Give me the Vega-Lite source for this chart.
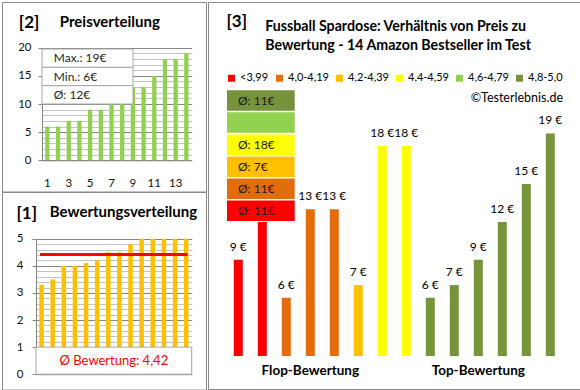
{
  "$schema": "https://vega.github.io/schema/vega-lite/v6.json",
  "padding": {"left": 1, "top": 1, "right": 0, "bottom": 0},
  "spacing": 0,
  "datasets": {
    "prices": [
      {"n": 1, "price": 6}, {"n": 2, "price": 6}, {"n": 3, "price": 7}, {"n": 4, "price": 7},
      {"n": 5, "price": 9}, {"n": 6, "price": 9}, {"n": 7, "price": 12}, {"n": 8, "price": 12},
      {"n": 9, "price": 13}, {"n": 10, "price": 13}, {"n": 11, "price": 15}, {"n": 12, "price": 18},
      {"n": 13, "price": 18}, {"n": 14, "price": 19}
    ],
    "stats": [
      {"row": "max", "txt": "Max.: 19€"},
      {"row": "min", "txt": "Min.: 6€"},
      {"row": "avg", "txt": "Ø: 12€"}
    ],
    "ratings": [
      {"n": 1, "rating": 3.3}, {"n": 2, "rating": 3.5}, {"n": 3, "rating": 4.0}, {"n": 4, "rating": 4.0},
      {"n": 5, "rating": 4.1}, {"n": 6, "rating": 4.2}, {"n": 7, "rating": 4.5}, {"n": 8, "rating": 4.5},
      {"n": 9, "rating": 4.8}, {"n": 10, "rating": 5}, {"n": 11, "rating": 5}, {"n": 12, "rating": 5},
      {"n": 13, "rating": 5}, {"n": 14, "rating": 5}
    ],
    "p1avg": [{"avg": 4.42, "txt": "Ø Bewertung: 4,42"}],
    "p3": [
      {"n": 1, "price": 9, "cat": "<3,99", "lbl": "9 €"},
      {"n": 2, "price": 12, "cat": "<3,99", "lbl": "12 €"},
      {"n": 3, "price": 6, "cat": "4,0-4,19", "lbl": "6 €"},
      {"n": 4, "price": 13, "cat": "4,0-4,19", "lbl": "13 €"},
      {"n": 5, "price": 13, "cat": "4,0-4,19", "lbl": "13 €"},
      {"n": 6, "price": 7, "cat": "4,2-4,39", "lbl": "7 €"},
      {"n": 7, "price": 18, "cat": "4,4-4,59", "lbl": "18 €"},
      {"n": 8, "price": 18, "cat": "4,4-4,59", "lbl": "18 €"},
      {"n": 9, "price": 6, "cat": "4,8-5,0", "lbl": "6 €"},
      {"n": 10, "price": 7, "cat": "4,8-5,0", "lbl": "7 €"},
      {"n": 11, "price": 9, "cat": "4,8-5,0", "lbl": "9 €"},
      {"n": 12, "price": 12, "cat": "4,8-5,0", "lbl": "12 €"},
      {"n": 13, "price": 15, "cat": "4,8-5,0", "lbl": "15 €"},
      {"n": 14, "price": 19, "cat": "4,8-5,0", "lbl": "19 €"}
    ],
    "boxes": [
      {"cat": "4,8-5,0", "txt": "Ø: 11€"},
      {"cat": "4,6-4,79", "txt": ""},
      {"cat": "4,4-4,59", "txt": "Ø: 18€"},
      {"cat": "4,2-4,39", "txt": "Ø: 7€"},
      {"cat": "4,0-4,19", "txt": "Ø: 11€"},
      {"cat": "<3,99", "txt": "Ø: 11€"}
    ]
  },
  "hconcat": [
    {
      "spacing": 0,
      "bounds": "flush",
      "vconcat": [
        {
          "width": 204,
          "height": 189.5,
          "layer": [
            {
              "data": {"name": "prices"},
              "mark": {"type": "bar", "color": "#92D050"},
              "encoding": {
                "x": {
                  "field": "n", "type": "ordinal",
                  "scale": {"range": [40, 189.7], "paddingInner": 0.6, "paddingOuter": 0.3},
                  "axis": {
                    "values": [1, 3, 5, 7, 9, 11, 13], "offset": -31.2, "domainColor": "#868686",
                    "ticks": false, "labelPadding": 17, "labelFontSize": 11.5, "labelColor": "#111",
                    "labelAngle": 0, "grid": false,
                    "title": "Preisverteilung", "titleX": 57.3, "titleY": -134.3, "titleAlign": "left",
                    "titleBaseline": "alphabetic", "titleFontSize": 15, "titleFontWeight": "bold", "titleColor": "#000"
                  }
                },
                "y": {
                  "field": "price", "type": "quantitative",
                  "scale": {"domain": [0, 20], "range": [158.3, 45.7], "nice": false, "zero": false},
                  "axis": {
                    "values": [0,1,2,3,4,5,6,7,8,9,10,11,12,13,14,15,16,17,18,19,20],
                    "offset": -40,
                    "labelExpr": "datum.value % 5 === 0 ? datum.label : ''",
                    "grid": true,
                    "gridColor": {"condition": {"test": "datum.value % 5 === 0", "value": "#868686"}, "value": "#c4c4c4"},
                    "tickSize": 4,
                    "tickColor": {"condition": {"test": "datum.value % 5 === 0", "value": "#868686"}, "value": "transparent"},
                    "domainColor": "#868686",
                    "labelFontSize": 11.5, "labelColor": "#111", "labelPadding": 7,
                    "title": "[2]", "titleX": -23.7, "titleY": 25, "titleAngle": 0, "titleAlign": "left",
                    "titleBaseline": "alphabetic", "titleFontSize": 17, "titleFontWeight": "bold", "titleColor": "#000"
                  }
                }
              }
            },
            {
              "data": {"name": "stats"},
              "layer": [
                {
                  "mark": {"type": "rect", "fill": "white", "stroke": "#a6a6a6", "strokeWidth": 1},
                  "encoding": {
                    "x": {"datum": "box", "type": "nominal", "scale": {"type": "band", "range": [40, 131], "paddingInner": 0, "paddingOuter": 0}, "axis": null},
                    "y": {"field": "row", "type": "nominal", "sort": null, "scale": {"type": "band", "range": [47, 102], "paddingInner": 0, "paddingOuter": 0}, "axis": null}
                  }
                },
                {
                  "mark": {"type": "text", "align": "left", "dx": 11.7, "fontSize": 12, "color": "#262626"},
                  "encoding": {
                    "x": {"datum": "box", "type": "nominal", "bandPosition": 0, "scale": {"type": "band"}, "axis": null},
                    "y": {"field": "row", "type": "nominal", "sort": null, "scale": {"type": "band"}, "axis": null},
                    "text": {"field": "txt"}
                  }
                }
              ]
            }
          ],
          "resolve": {"scale": {"x": "independent", "y": "independent"}}
        },
        {
          "width": 204,
          "height": 197.5,
          "layer": [
            {
              "data": {"name": "ratings"},
              "mark": {"type": "bar", "color": "#FFC000"},
              "encoding": {
                "x": {
                  "field": "n", "type": "ordinal",
                  "scale": {"domain": [1,2,3,4,5,6,7,8,9,10,11,12,13,14], "range": [34, 189.7], "paddingInner": 0.595, "paddingOuter": 0.2975},
                  "axis": {
                    "offset": -15.3, "labels": false, "ticks": false, "domainColor": "#868686", "grid": false,
                    "title": "Bewertungsverteilung", "titleX": 47.3, "titleY": -158.2, "titleAlign": "left",
                    "titleBaseline": "alphabetic", "titleFontSize": 15, "titleFontWeight": "bold", "titleColor": "#000"
                  }
                },
                "y": {
                  "field": "rating", "type": "quantitative",
                  "scale": {"domain": [0, 5], "range": [182.2, 46.8], "nice": false, "zero": false},
                  "axis": {
                    "values": [0,0.2,0.4,0.6,0.8,1,1.2,1.4,1.6,1.8,2,2.2,2.4,2.6,2.8,3,3.2,3.4,3.6,3.8,4,4.2,4.4,4.6,4.8,5],
                    "offset": -34,
                    "labelExpr": "abs(datum.value - round(datum.value)) < 0.001 ? '' + round(datum.value) : ''",
                    "grid": true,
                    "gridColor": {"condition": {"test": "abs(datum.value - round(datum.value)) < 0.001", "value": "#868686"}, "value": "#c4c4c4"},
                    "tickSize": 4,
                    "tickColor": {"condition": {"test": "abs(datum.value - round(datum.value)) < 0.001", "value": "#868686"}, "value": "transparent"},
                    "domainColor": "#868686",
                    "labelFontSize": 11.5, "labelColor": "#111", "labelPadding": 9,
                    "title": "[1]", "titleX": -20, "titleY": 26, "titleAngle": 0, "titleAlign": "left",
                    "titleBaseline": "alphabetic", "titleFontSize": 17, "titleFontWeight": "bold", "titleColor": "#000"
                  }
                }
              }
            },
            {
              "data": {"name": "p1avg"},
              "mark": {"type": "rule", "color": "#FF0000", "strokeWidth": 3, "strokeCap": "square"},
              "encoding": {
                "x": {"datum": 1, "type": "ordinal", "scale": {"domain": [1,2,3,4,5,6,7,8,9,10,11,12,13,14], "range": [34, 189.7], "paddingInner": 0.595, "paddingOuter": 0.2975}, "axis": null},
                "x2": {"datum": 14},
                "y": {"field": "avg", "type": "quantitative", "scale": {"domain": [0, 5], "range": [182.2, 46.8], "nice": false, "zero": false}, "axis": null}
              }
            },
            {
              "data": {"name": "p1avg"},
              "mark": {"type": "rect", "fill": "white", "stroke": "#a6a6a6", "strokeWidth": 1},
              "encoding": {
                "x": {"datum": "box", "type": "nominal", "scale": {"type": "band", "range": [34, 189.7], "paddingInner": 0, "paddingOuter": 0}, "axis": null},
                "y": {"datum": 0, "type": "quantitative", "scale": {"domain": [0, 5], "range": [182.2, 46.8], "nice": false, "zero": false}, "axis": null},
                "y2": {"datum": 1}
              }
            },
            {
              "data": {"name": "p1avg"},
              "mark": {"type": "text", "fontSize": 13, "color": "#FF0000"},
              "encoding": {
                "x": {"datum": "box", "type": "nominal", "scale": {"type": "band", "range": [34, 189.7], "paddingInner": 0, "paddingOuter": 0}, "axis": null},
                "y": {"datum": 0.5, "type": "quantitative", "scale": {"domain": [0, 5], "range": [182.2, 46.8], "nice": false, "zero": false}, "axis": null},
                "text": {"field": "txt"}
              }
            }
          ],
          "resolve": {"scale": {"x": "independent", "y": "independent"}}
        }
      ]
    },
    {
      "width": 372.5,
      "height": 387,
      "layer": [
        {
          "data": {"name": "p3"},
          "mark": {"type": "bar"},
          "encoding": {
            "x": {
              "field": "n", "type": "ordinal",
              "scale": {"domain": [1,2,3,4,5,6,7,8,9,10,11,12,13,14], "range": [18.3, 354.3], "paddingInner": 0.625, "paddingOuter": 0.3125},
              "axis": {
                "values": [4, 11],
                "labelExpr": "datum.value === 4 ? 'Flop-Bewertung' : 'Top-Bewertung'",
                "offset": -33, "domain": false, "ticks": false, "grid": false,
                "labelPadding": 14, "labelBaseline": "middle", "labelFontSize": 13.5, "labelFontWeight": "bold",
                "labelColor": "#000", "labelDx": 0, "labelAngle": 0,
                "title": ["Fussball Spardose: Verhältnis von Preis zu", "Bewertung - 14 Amazon Bestseller im Test"],
                "titleX": 56.7, "titleY": -325.7, "titleAlign": "left", "titleBaseline": "alphabetic",
                "titleFontSize": 14.2, "titleFontWeight": "bold", "titleLineHeight": 19, "titleColor": "#000"
              }
            },
            "y": {
              "field": "price", "type": "quantitative",
              "scale": {"domain": [1.39, 20], "range": [354, 118.8], "nice": false, "zero": false},
              "axis": {
                "labels": false, "ticks": false, "domain": false, "grid": false,
                "title": "[3]", "titleX": 18, "titleY": 24, "titleAngle": 0, "titleAlign": "left",
                "titleBaseline": "alphabetic", "titleFontSize": 17, "titleFontWeight": "bold", "titleColor": "#000"
              }
            },
            "y2": {"datum": 1.39},
            "color": {
              "field": "cat", "type": "nominal",
              "scale": {
                "domain": ["<3,99", "4,0-4,19", "4,2-4,39", "4,4-4,59", "4,6-4,79", "4,8-5,0"],
                "range": ["#FF0000", "#E46C0A", "#FFC000", "#FFFF00", "#92D050", "#77933C"]
              },
              "legend": {
                "orient": "none", "legendX": 224, "legendY": 70.5, "direction": "horizontal",
                "symbolType": "square", "symbolSize": 49, "symbolStrokeWidth": 0,
                "labelFontSize": 11, "labelOffset": 3, "labelColor": "#000", "columnPadding": 5,
                "padding": 0,
                "title": "©Testerlebnis.de", "titleOrient": "bottom", "titleAnchor": "end",
                "titleFontWeight": "normal", "titleFontSize": 12.5, "titleColor": "#000", "titlePadding": 8
              }
            }
          }
        },
        {
          "data": {"name": "p3"},
          "mark": {"type": "text", "fontSize": 12, "color": "#000", "baseline": "middle", "dy": -13},
          "encoding": {
            "x": {"field": "n", "type": "ordinal", "scale": {"domain": [1,2,3,4,5,6,7,8,9,10,11,12,13,14], "range": [18.3, 354.3], "paddingInner": 0.625, "paddingOuter": 0.3125}, "axis": null},
            "y": {"field": "price", "type": "quantitative", "scale": {"domain": [1.39, 20], "range": [354, 118.8], "nice": false, "zero": false}, "axis": null},
            "text": {"field": "lbl"}
          }
        },
        {
          "data": {"name": "boxes"},
          "mark": {"type": "rect"},
          "encoding": {
            "x": {"datum": "box", "type": "nominal", "scale": {"type": "band", "range": [19, 86.7], "paddingInner": 0, "paddingOuter": 0}, "axis": null},
            "y": {
              "field": "cat", "type": "nominal",
              "scale": {"type": "band", "domain": ["4,8-5,0", "4,6-4,79", "4,4-4,59", "4,2-4,39", "4,0-4,19", "<3,99"], "range": [88.3, 219], "paddingInner": 0.07, "paddingOuter": 0},
              "axis": null
            },
            "color": {
              "field": "cat", "type": "nominal",
              "scale": {
                "domain": ["<3,99", "4,0-4,19", "4,2-4,39", "4,4-4,59", "4,6-4,79", "4,8-5,0"],
                "range": ["#FF0000", "#E46C0A", "#FFC000", "#FFFF00", "#92D050", "#77933C"]
              },
              "legend": {
                "orient": "none", "legendX": 224, "legendY": 70.5, "direction": "horizontal",
                "symbolType": "square", "symbolSize": 49, "symbolStrokeWidth": 0,
                "labelFontSize": 11, "labelOffset": 3, "labelColor": "#000", "columnPadding": 5,
                "padding": 0,
                "title": "©Testerlebnis.de", "titleOrient": "bottom", "titleAnchor": "end",
                "titleFontWeight": "normal", "titleFontSize": 12.5, "titleColor": "#000", "titlePadding": 8
              }
            }
          }
        },
        {
          "data": {"name": "boxes"},
          "mark": {"type": "text", "align": "left", "dx": 11, "fontSize": 12, "color": "#1a1a1a"},
          "encoding": {
            "x": {"datum": "box", "type": "nominal", "bandPosition": 0, "scale": {"type": "band", "range": [19, 86.7], "paddingInner": 0, "paddingOuter": 0}, "axis": null},
            "y": {
              "field": "cat", "type": "nominal",
              "scale": {"type": "band", "domain": ["4,8-5,0", "4,6-4,79", "4,4-4,59", "4,2-4,39", "4,0-4,19", "<3,99"], "range": [88.3, 219], "paddingInner": 0.07, "paddingOuter": 0},
              "axis": null
            },
            "text": {"field": "txt"}
          }
        }
      ],
      "resolve": {"scale": {"x": "independent", "y": "independent"}}
    }
  ],
  "config": {
    "font": "Lato",
    "view": {"stroke": "#8a8a8a", "strokeWidth": 1},
    "background": "white"
  }
}
